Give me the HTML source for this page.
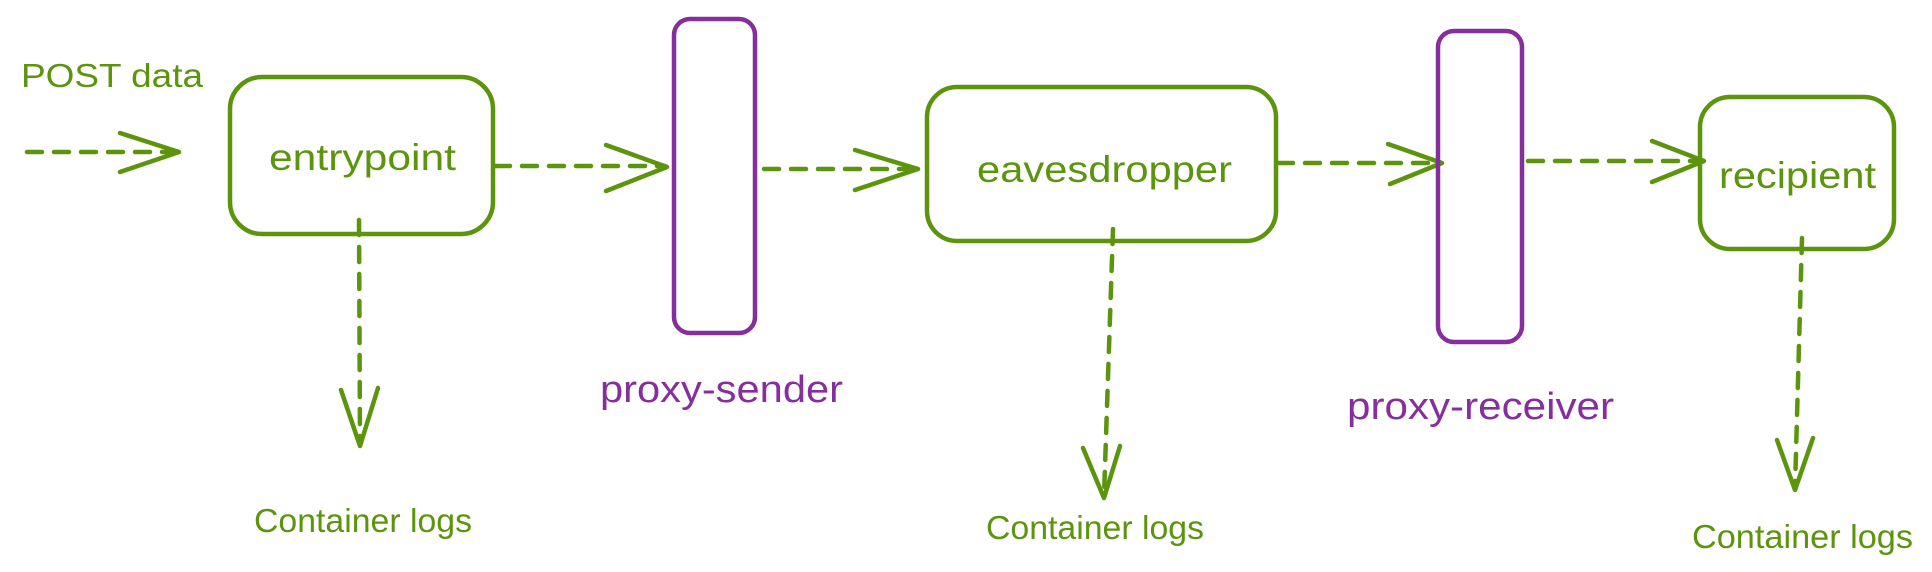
<!DOCTYPE html>
<html><head><meta charset="utf-8"><style>
html,body{margin:0;padding:0;background:#fff;}
svg{display:block;}
text{font-family:"Liberation Sans",sans-serif;}
</style></head><body>
<svg width="1932" height="572" viewBox="0 0 1932 572" xmlns="http://www.w3.org/2000/svg">
<g fill="none" stroke="#5c940d" stroke-width="4.5" stroke-linecap="round" stroke-linejoin="round">
  <rect x="230" y="77" width="263" height="157" rx="32"/>
  <rect x="927" y="87" width="349" height="154" rx="30"/>
  <rect x="1700" y="97" width="194" height="152" rx="30"/>
  <g stroke-dasharray="15 12">
    <path d="M27 152 L176 152"/>
    <path d="M495 166 L665 166"/>
    <path d="M764 169 L914 169"/>
    <path d="M1278 163 L1440 163"/>
    <path d="M1528 161 L1700 161"/>
    <path d="M359 220 L360 444"/>
    <path d="M1113 229 L1104 496"/>
    <path d="M1802 238 L1795 488"/>
  </g>
  <path d="M120 133 L179 152 L120 172"/>
  <path d="M606 145 L667 167 L606 191"/>
  <path d="M855 150 L918 169 L855 190"/>
  <path d="M1388 144 L1442 163 L1390 184"/>
  <path d="M1652 141 L1704 161 L1652 182"/>
  <path d="M341 390 L360 446 L378 388"/>
  <path d="M1083 448 L1104 498 L1120 446"/>
  <path d="M1777 440 L1795 490 L1813 438"/>
</g>
<g fill="none" stroke="#862e9c" stroke-width="4.5">
  <rect x="674" y="19" width="81" height="314" rx="16"/>
  <rect x="1438" y="31" width="84" height="311" rx="16"/>
</g>
<g fill="#5c940d" font-size="33">
  <text x="21" y="87" textLength="182" lengthAdjust="spacingAndGlyphs">POST data</text>
  <text x="269" y="170" font-size="37" textLength="187" lengthAdjust="spacingAndGlyphs">entrypoint</text>
  <text x="977" y="182" font-size="37" textLength="255" lengthAdjust="spacingAndGlyphs">eavesdropper</text>
  <text x="1719" y="188" font-size="37" textLength="157" lengthAdjust="spacingAndGlyphs">recipient</text>
  <text x="254" y="532" textLength="218" lengthAdjust="spacingAndGlyphs">Container logs</text>
  <text x="986" y="539" textLength="218" lengthAdjust="spacingAndGlyphs">Container logs</text>
  <text x="1692" y="548" textLength="221" lengthAdjust="spacingAndGlyphs">Container logs</text>
</g>
<g fill="#862e9c" font-size="38">
  <text x="600" y="402" textLength="243" lengthAdjust="spacingAndGlyphs">proxy-sender</text>
  <text x="1347" y="419" textLength="267" lengthAdjust="spacingAndGlyphs">proxy-receiver</text>
</g>
</svg>
</body></html>
